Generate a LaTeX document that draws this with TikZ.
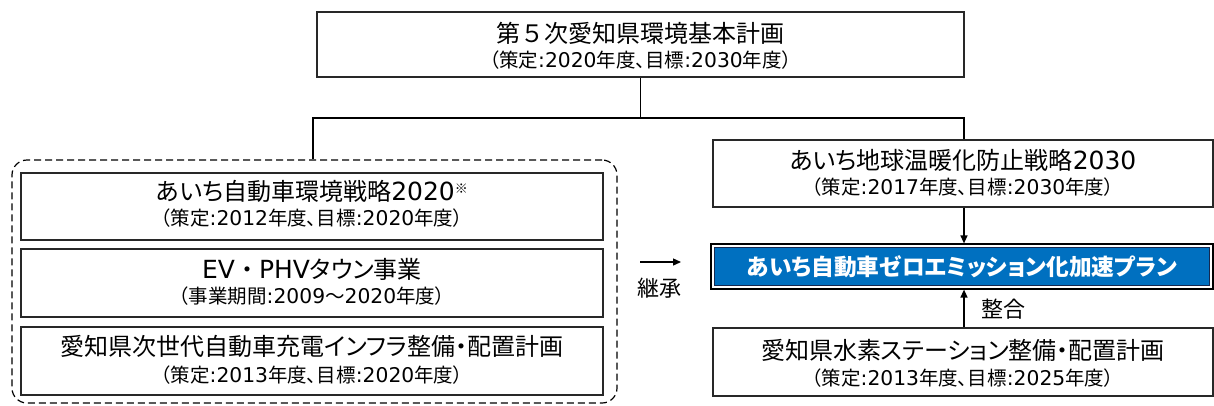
\documentclass[tikz,border=0pt]{standalone}
\usepackage{fontspec}
\setmainfont{Noto Sans CJK JP}[RawFeature=+palt]
\newfontfamily\cjkfull{Noto Sans CJK JP}
\newfontfamily\dvsfont{DejaVu Sans}[Scale=1.04]
\newcommand\dvs[1]{{\dvsfont #1}}
\usetikzlibrary{arrows.meta}
\definecolor{planblue}{RGB}{0,112,192}
\definecolor{navyline}{RGB}{20,40,80}
\definecolor{boxline}{RGB}{40,40,40}
\tikzset{
  planbox/.style={draw=boxline, line width=1.2pt, rectangle, inner sep=0pt},
  ttl/.style={inner sep=0pt, font=\fontsize{24}{27}\selectfont},
  sub/.style={inner sep=0pt, font=\fontsize{19.5}{22}\selectfont},
  conn/.style={line width=1.3pt, black},
  arr/.style={conn, -{Triangle[length=8pt,width=7pt]}},
  lbl/.style={inner sep=0pt, font=\fontsize{22}{25}\selectfont}
}
\begin{document}
\begin{tikzpicture}[x=1pt,y=-1pt]
\useasboundingbox (0,0) rectangle (1214,405);
% top box
\node[planbox, minimum width=647pt, minimum height=65pt] (top) at (640.5,44.5) {};
\node[ttl] (topT) at (640.5,33) {第{\cjkfull ５}次愛知県環境基本計画};
\node[sub] (topS) at (640.5,60) {（策定\dvs{:2020}年度、目標\dvs{:2030}年度）};
% dashed group
\node[draw, dash pattern=on 7pt off 4pt, line width=1.2pt, rounded corners=15pt, minimum width=605pt, minimum height=243pt, inner sep=0pt] (grp) at (314.5,281.5) {};
% left boxes
\node[planbox, minimum width=582pt, minimum height=67pt] (b1) at (312,206.5) {};
\node[ttl] (b1T) at (312,191) {あいち自動車環境戦略\dvs{2020}\raisebox{7pt}{\fontsize{13}{15}\selectfont ※}};
\node[sub] (b1S) at (312,218) {（策定\dvs{:2012}年度、目標\dvs{:2020}年度）};
\node[planbox, minimum width=582pt, minimum height=68pt] (b2) at (312,283) {};
\node[ttl] (b2T) at (312,269) {\dvs{EV}{\cjkfull ・}\dvs{PHV}タウン事業};
\node[sub] (b2S) at (312,296) {（事業期間\dvs{:2009}～\dvs{2020}年度）};
\node[planbox, minimum width=582pt, minimum height=68pt] (b3) at (312,361) {};
\node[ttl] (b3T) at (312,346) {愛知県次世代自動車充電インフラ整備・配置計画};
\node[sub] (b3S) at (312,375) {（策定\dvs{:2013}年度、目標\dvs{:2020}年度）};
% right boxes
\node[planbox, minimum width=500pt, minimum height=67pt] (warm) at (963,173.5) {};
\node[ttl] (warmT) at (963,160) {あいち地球温暖化防止戦略\dvs{2030}};
\node[sub] (warmS) at (963,187) {（策定\dvs{:2017}年度、目標\dvs{:2030}年度）};
\node[draw=black, line width=1.2pt, minimum width=502pt, minimum height=45pt, inner sep=0pt] (zeroO) at (962,266.5) {};
\node[draw=navyline, fill=planblue, line width=1.2pt, minimum width=495pt, minimum height=38pt, inner sep=0pt] (zero) at (962,266.5) {};
\node[inner sep=0pt, text=white, font=\fontsize{22.7}{25}\selectfont\bfseries] (zeroT) at (962,267) {あいち自動車ゼロエミッション化加速プラン};
\node[planbox, minimum width=500pt, minimum height=68pt] (h2) at (963,362) {};
\node[ttl] (h2T) at (963,350) {愛知県水素ステーション整備・配置計画};
\node[sub] (h2S) at (963,378) {（策定\dvs{:2013}年度、目標\dvs{:2025}年度）};
% tree
\coordinate (junc) at (640.5,118);
\draw[conn] (top.south) -- (junc) -| (grp.north -| 313,0);
\draw[conn] (junc) -| (warm.north -| 964,0);
\draw[arr] (warm.south -| 964,0) -- (zeroO.north -| 964,0);
\draw[arr] (h2.north -| 964,0) -- (zeroO.south -| 964,0);
% inherit arrow
\coordinate (ia) at (640,262);
\coordinate (ib) at (681,262);
\draw[arr] (ia) -- (ib);
\node[lbl] (inh) at (659,288) {継承};
\node[lbl] (cons) at (1003,309) {整合};
\end{tikzpicture}
\end{document}
